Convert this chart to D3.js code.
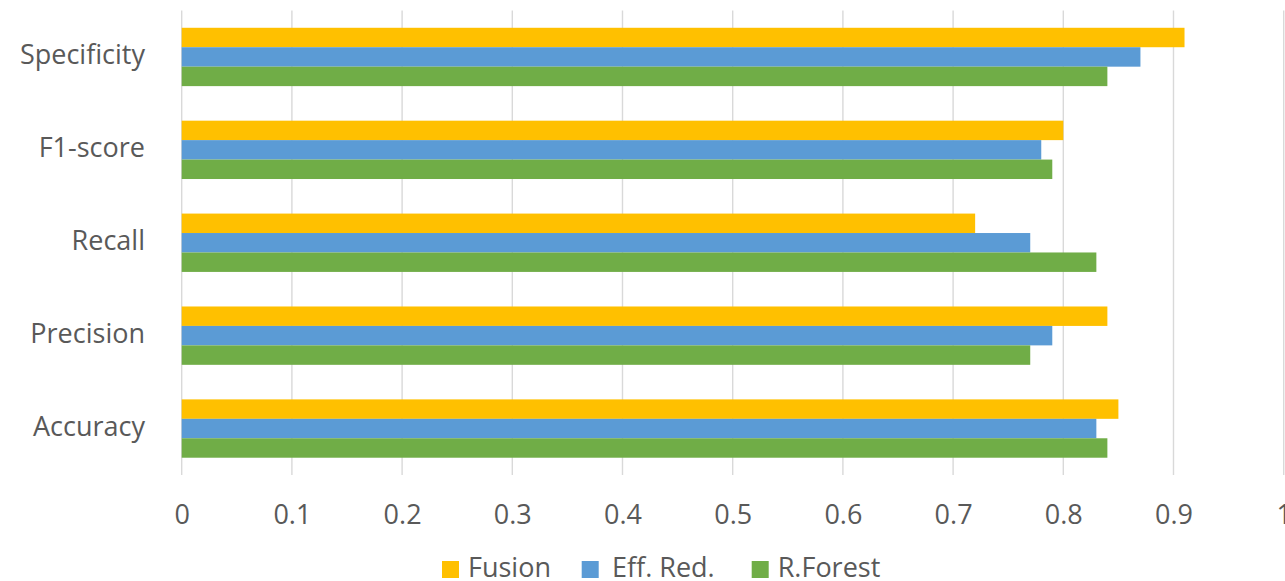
<!DOCTYPE html>
<html><head><meta charset="utf-8">
<script src="https://cdn.jsdelivr.net/npm/d3@7"></script>
<style>body{margin:0;background:#fff;}svg{display:block;font-family:"Open Sans",sans-serif;}</style>
</head><body>
<svg id="c" width="1285" height="581"></svg>
<script>
const categories = ["Specificity","F1-score","Recall","Precision","Accuracy"];
const seriesNames = ["Fusion","Eff. Red.","R.Forest"];
const fusion  = [0.91,0.80,0.72,0.84,0.85];
const effRed  = [0.87,0.78,0.77,0.79,0.83];
const rForest = [0.84,0.79,0.83,0.77,0.84];
const tickValues = [0,0.1,0.2,0.3,0.4,0.5,0.6,0.7,0.8,0.9,1];
const colors = ["#FFC000","#5B9BD5","#70AD47"];

const seriesValues = [fusion, effRed, rForest];
const svg = d3.select("#c");
const x = d3.scaleLinear().domain([0,1]).range([181.7,1283.7]);
const y = d3.scaleBand().domain(categories).range([10.5,475]).paddingInner(0.372).paddingOuter(0.186);
const ySub = d3.scaleBand().domain(seriesNames).range([0,y.bandwidth()]);

// gridlines
svg.append("g").selectAll("line").data(tickValues).join("line")
  .attr("x1",d=>x(d)).attr("x2",d=>x(d)).attr("y1",10.5).attr("y2",475)
  .attr("stroke","#d9d9d9").attr("stroke-width",1.4);

// bars
const g = svg.append("g");
categories.forEach((c,i)=>{
  seriesNames.forEach((s,j)=>{
    g.append("rect")
      .attr("x",x(0)).attr("y",y(c)+ySub(s))
      .attr("width",x(seriesValues[j][i])-x(0))
      .attr("height",ySub.bandwidth())
      .attr("fill",colors[j]);
  });
});

// x tick labels
const xAxis = d3.axisBottom(x).tickValues(tickValues).tickFormat(d3.format("~g")).tickSize(0).tickPadding(0);
const ax = svg.append("g").attr("transform","translate(0,0)").call(xAxis);
ax.select(".domain").remove();
ax.selectAll("text").attr("y",524).attr("dy",null)
  .attr("font-size","27px").attr("fill","#595959").attr("font-family","Open Sans");

// y category labels
const yAxis = d3.axisLeft(y).tickSize(0).tickPadding(0);
const ay = svg.append("g").attr("transform","translate(145,0)").call(yAxis);
ay.select(".domain").remove();
ay.selectAll("text").attr("x",0).attr("dy",null).attr("y",7.5)
  .attr("text-anchor","end").attr("font-size","27px").attr("fill","#595959").attr("font-family","Open Sans");

// legend
const legendX = [442, 581.7, 751.7];
const legendTextX = [468, 612, 777.7];
const lg = svg.append("g");
seriesNames.forEach((s,j)=>{
  lg.append("rect").attr("x",legendX[j]).attr("y",561).attr("width",17).attr("height",17).attr("fill",colors[j]);
  lg.append("text").attr("x",legendTextX[j]).attr("y",577).text(s)
    .attr("font-size","27px").attr("fill","#595959");
});
</script>
</body></html>
